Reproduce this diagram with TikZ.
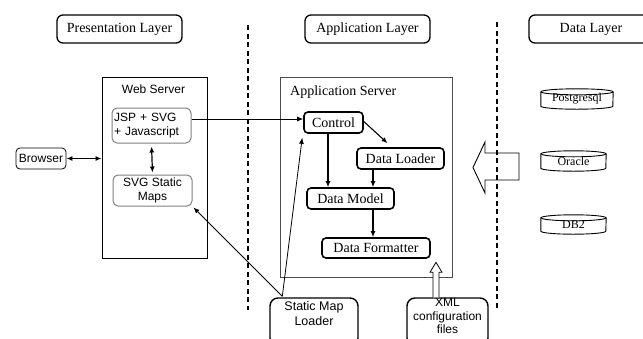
\documentclass[tikz,border=0pt]{standalone}
\usepackage{fontspec}
\setmainfont{Liberation Serif}
\setsansfont{Liberation Sans}
\usetikzlibrary{arrows.meta}
\begin{document}
\begin{tikzpicture}[x=1pt,y=-1pt,
  layerbox/.style={draw, rounded corners=6pt, line width=1.3pt, minimum width=125pt, minimum height=28pt, inner sep=0pt, font=\fontsize{14}{16}\selectfont},
  compbox/.style={draw, rounded corners=4pt, line width=1.6pt, inner sep=0pt, font=\fontsize{14}{16}\selectfont},
  sansbox/.style={draw=gray, rounded corners=5pt, line width=1pt, inner sep=1pt, font=\sffamily\fontsize{12}{13.5}\selectfont},
  extbox/.style={draw, rounded corners=8pt, line width=1.4pt, inner sep=0pt},
  container/.style={draw, line width=0.8pt, inner sep=0pt},
  dbtext/.style={inner sep=0pt, minimum height=20pt, font=\fontsize{12}{14}\selectfont},
  cyl/.style={line width=0.9pt},
  arr/.style={-{Latex[length=6pt,width=5pt]}, line width=0.8pt},
  biarr/.style={{Latex[length=6pt,width=5pt]}-{Latex[length=6pt,width=5pt]}, line width=1.2pt},
  divider/.style={line width=2pt, dash pattern=on 5pt off 3.5pt},
  sanstext/.style={inner sep=0pt, align=center, font=\sffamily\fontsize{12}{13.5}\selectfont},
  serif/.style={inner sep=0pt, font=\fontsize{14}{16}\selectfont}
]
\useasboundingbox (0,0) rectangle (643,338);

% layer titles
\node[layerbox] (pl) at (119.5,29) {Presentation Layer};
\node[layerbox] (al) at (367.5,29) {Application Layer};
\node[layerbox, minimum width=124pt] (dl) at (591,29) {Data Layer};

% dividers
\coordinate (d1a) at (248,25); \coordinate (d1b) at (248,310);
\coordinate (d2a) at (497,22); \coordinate (d2b) at (497,310);

% web server container
\node[container, minimum width=105pt, minimum height=181pt] (ws) at (154.5,167.5) {};
\node[sanstext] (wsl) at (153.5,89) {Web Server};
\node[sansbox, minimum width=79pt, minimum height=35pt, text width=75pt, align=left] (jsp) at (151.5,125.5) {JSP + SVG\\+ Javascript};
\node[sansbox, minimum width=79pt, minimum height=31pt, align=center] (svgm) at (152.5,190.5) {SVG Static\\Maps};

% browser
\node[draw, rounded corners=4pt, line width=0.8pt, minimum width=50pt, minimum height=21pt, inner sep=0pt, font=\sffamily\fontsize{12}{13.5}\selectfont] (browser) at (41,158.5) {Browser};

% application server container
\node[container, draw=black!70, minimum width=172pt, minimum height=200pt] (as) at (366,177) {};
\node[serif, anchor=west] (asl) at (290,92.5) {Application Server};
\node[compbox, minimum width=59pt, minimum height=21pt] (ctrl) at (333.5,122.5) {Control};
\node[compbox, minimum width=87pt, minimum height=21pt] (dload) at (400.5,158.5) {Data Loader};
\node[compbox, minimum width=87pt, minimum height=21pt] (dmodel) at (350.5,198.5) {Data Model};
\node[compbox, minimum width=108pt, minimum height=20pt] (dfmt) at (376,248) {Data Formatter};

% external boxes at bottom
\node[extbox, minimum width=88pt, minimum height=48pt] (sml) at (314,322) {};
\node[sanstext, font=\sffamily\fontsize{12.5}{15}\selectfont, anchor=north] (smlt) at (314,301) {Static Map\\Loader};
\node[extbox, minimum width=81pt, minimum height=48pt] (xml) at (447.5,322) {};
\node[sanstext, anchor=north] (xmlt) at (447.5,298.5) {XML\\configuration\\files};

% databases
\node[dbtext, minimum width=72pt] (pg) at (577,99) {Postgresql};
\node[dbtext, minimum width=65pt] (ora) at (573.5,161) {Oracle};
\node[dbtext, minimum width=65pt, minimum height=19pt] (db2) at (573.5,224.5) {DB2};
\foreach \n/\r in {pg/36,ora/32.5,db2/32.5}{
  \draw[cyl] ([yshift=-3pt]\n.north) ellipse ({\r} and 3);
  \draw[cyl] ([yshift=-3pt]\n.north west) -- ([yshift=3pt]\n.south west)
    arc[start angle=180, end angle=0, x radius=\r, y radius=3]
    -- ([yshift=-3pt]\n.north east);
}

% big hollow arrow from data layer
\draw[line width=0.9pt] (519,153) -- (485,153) -- (485,142) -- (473,167.5) -- (485,193) -- (485,180) -- (519,180) -- cycle;

% dividers drawn over
\draw[divider] (d1a) -- (d1b);
\draw[divider] (d2a) -- (d2b);

% connectors
\draw[biarr] (browser.east) -- (browser.east -| ws.west);
\draw[biarr, shorten <=3pt, shorten >=2pt] (jsp.south) -- (svgm.north);
\draw[arr] ([yshift=3.5pt]jsp.east |- ctrl.west) -- ([yshift=3.5pt]ctrl.west);
\draw[arr, line width=1.1pt] ([yshift=1pt]ctrl.east) -- ([xshift=-13pt,yshift=4pt]dload.north);
\draw[arr, line width=1.1pt] ([xshift=-5.5pt]ctrl.south) -- ([xshift=-5.5pt]ctrl.south |- dmodel.north);
\draw[arr, line width=1.1pt] ([xshift=-27.5pt]dload.south) -- ([xshift=-27.5pt]dload.south |- dmodel.north);
\draw[arr, line width=1.1pt] ([xshift=22.5pt]dmodel.south) -- ([xshift=22.5pt]dmodel.south |- dfmt.north);
\coordinate (smlTop) at ([xshift=13pt,yshift=1pt]sml.north west);
\draw[arr] (smlTop) -- ([xshift=1pt,yshift=-1pt]svgm.south east);
\draw[arr] (smlTop) -- ([xshift=-1pt,yshift=-4pt]ctrl.south west);

% hollow arrow from XML files
\coordinate (xmlT) at ([xshift=-11.5pt]xml.north);
\draw[line width=0.8pt, fill=white] ([xshift=-3pt]xmlT) -- ++(0,-25) -- ++(-3,0) -- ++(6,-10) -- ++(6,10) -- ++(-3,0) -- ++(0,25);
\end{tikzpicture}
\end{document}
